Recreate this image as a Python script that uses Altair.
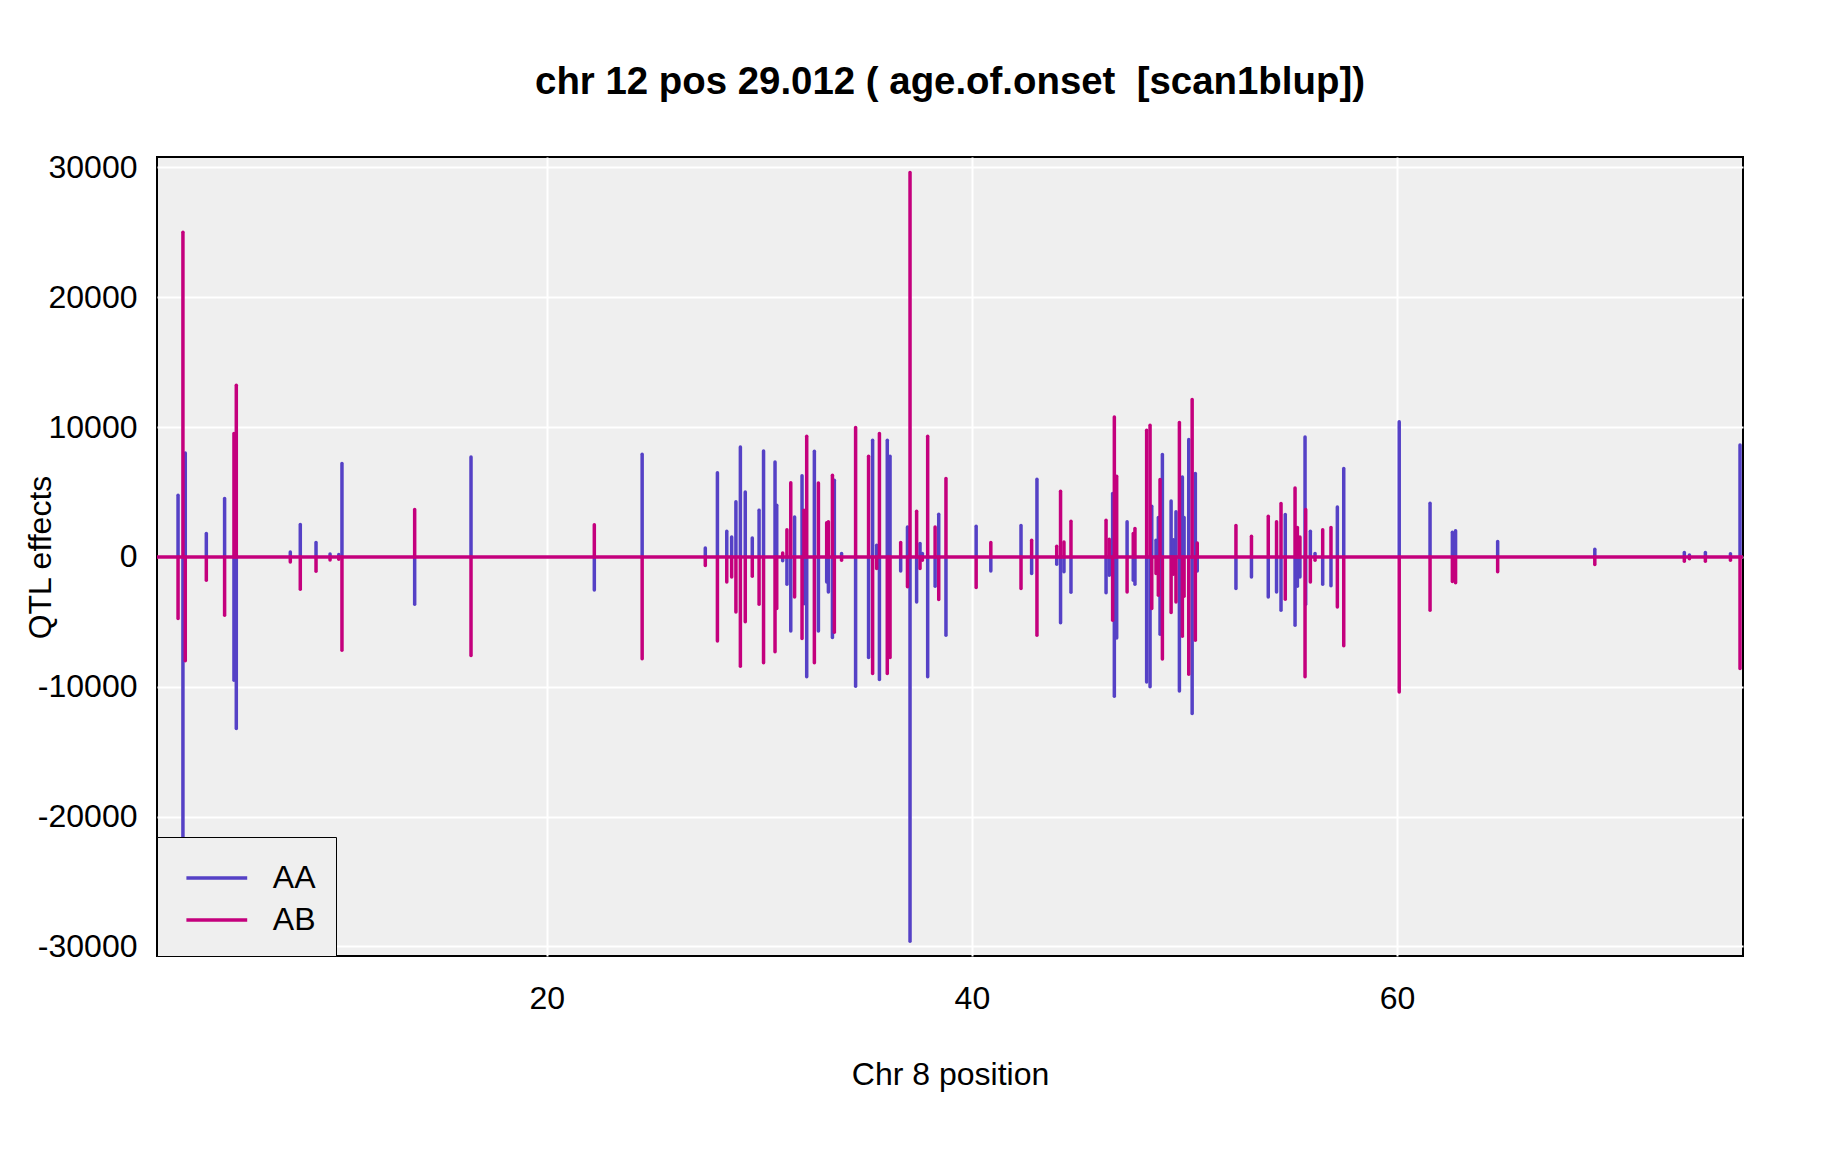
import altair as alt
import pandas as pd

# ---- data (marker position, AA effect, AB effect) ----
pos = [2.66, 2.89, 3.00, 3.99, 4.85, 5.29, 5.40, 7.94, 8.41, 9.15, 9.81, 10.22, 10.37,
       13.79, 16.44, 22.24, 24.49, 27.46, 28.03, 28.47, 28.70, 28.90, 29.11, 29.34,
       29.67, 29.99, 30.20, 30.74, 30.82, 31.10, 31.30, 31.48, 31.66, 32.01, 32.10,
       32.23, 32.59, 32.78, 33.17, 33.25, 33.44, 33.53, 33.87, 34.53, 35.14, 35.33,
       35.52, 35.65, 36.02, 36.15, 36.65, 36.97, 37.09, 37.40, 37.56, 37.67, 37.92,
       38.27, 38.44, 38.78, 40.20, 40.89, 42.31, 42.81, 43.06, 43.99, 44.17, 44.33,
       44.66, 46.31, 46.46, 46.62, 46.70, 46.81, 47.30, 47.59, 47.67, 48.22, 48.38,
       48.46, 48.66, 48.77, 48.85, 48.96, 49.37, 49.48, 49.60, 49.76, 49.90, 49.98,
       50.20, 50.36, 50.51, 50.60, 52.42, 53.15, 53.94, 54.33, 54.54, 54.74, 55.20,
       55.31, 55.43, 55.67, 55.70, 55.92, 56.14, 56.50, 56.89, 57.19, 57.49, 60.10,
       61.55, 62.60, 62.75, 64.73, 69.30, 73.51, 73.75, 74.50, 75.68, 76.13]

aa = [4750, -25000, 8000, 1800, 4490, -9500, -13220, 385, 2490, 1100, 230, 180, 7190,
      -3645, 7700, -2540, 7900, 690, 6490, 1980, 1540, 4240, 8470, 5000,
      1460, 3590, 8160, 7310, 3980, -300, -2100, -5700, 3080, 6260, -3600,
      -9240, 8140, -5700, -1930, -2700, -6210, 5900, 260, -9960, -7750, 8980,
      900, -9450, 8980, 7750, -1080, 2300, -29600, -3470, 1030, 260, -9240,
      -2260, 3290, -6030, 2360, -1080, 2410, -1280, 5980, -560, -5080, -1150,
      -2720, -2770, -1410, 4880, -10730, -6240, 2700, -1800, -2100, -9630, -10010,
      3900, 1280, 3030, -5960, 7880, 4310, 1330, 3470, -10320, 6160, 3030,
      9040, -12070, 6420, -1080, -2440, -1540, -3080, -2700, -4110, 3260, -5260,
      -2260, -1540, 9240, -3645, 1980, 260, -2100, -2230, 3850, 6800, 10400,
      4140, 1900, 2020, 1180, 590, 330, 150, 330, 250, 8610]

ab = [-4750, 25000, -8000, -1800, -4490, 9500, 13220, -385, -2490, -1100, -230, -180, -7190,
      3645, -7600, 2480, -7850, -660, -6470, -1930, -1540, -4240, -8420, -5000,
      -1490, -3645, -8160, -7310, -3980, 300, 2100, 5720, -3080, -6290, 3600,
      9290, -8160, 5700, 2640, 2700, 6290, -5800, -260, 9960, 7750, -8980,
      -900, 9500, -8980, -7750, 1100, -2300, 29600, 3520, -900, -260, 9290,
      2310, -3290, 6030, -2360, 1100, -2440, 1280, -6030, 820, 5060, 1150,
      2750, 2820, 1360, -4880, 10780, 6210, -2700, 1800, 2180, 9750, 10140,
      -3980, -1280, -2950, 5960, -7860, -4290, -1330, -3470, 10350, -6110, -3030,
      -9040, 12120, -6420, 1080, 2410, 1590, 3130, 2700, 4110, -3260, 5310,
      2260, 1540, -9240, 3645, -1930, -260, 2100, 2260, -3850, -6850, -10400,
      -4100, -1900, -2000, -1150, -590, -330, -150, -330, -250, -8590]

genotypes = ["AA", "AB"]
x_ticks = [20, 40, 60]
y_ticks = [-30000, -20000, -10000, 0, 10000, 20000, 30000]

BLUE = "#5541C6"
MAGENTA = "#C4007D"
FONT = "Liberation Sans"

rows = []
for g, vals in zip(genotypes, (aa, ab)):
    for p, v in zip(pos, vals):
        rows.append({"pos": p, "effect": v, "geno": g})
df = pd.DataFrame(rows)

x_scale = alt.Scale(domain=[1.67, 76.27], nice=False, zero=False)
y_scale = alt.Scale(domain=[-30739, 30801], nice=False, zero=False)

spikes = alt.Chart(df).mark_rule(strokeWidth=3.5, strokeCap="round").encode(
    x=alt.X("pos:Q", scale=x_scale,
            axis=alt.Axis(values=x_ticks, title="Chr 8 position", labelPadding=27,
                          titleX=793, titleY=128, titleBaseline="alphabetic",
                          titleAlign="center")),
    y=alt.Y("effect:Q", scale=y_scale,
            axis=alt.Axis(values=y_ticks, title="QTL effects", labelPadding=20,
                          labelExpr="'' + datum.value",
                          titleX=-107, titleY=400, titleAngle=270,
                          titleBaseline="alphabetic", titleAlign="center")),
    y2=alt.datum(0),
    color=alt.Color("geno:N",
                    scale=alt.Scale(domain=genotypes, range=[BLUE, MAGENTA]),
                    legend=alt.Legend(orient="bottom-left", offset=0, title=None,
                                      padding=20, symbolType="M-1.6,0L1.6,0",
                                      symbolSize=1444, symbolStrokeWidth=3.5,
                                      symbolOffset=18.8, labelOffset=35,
                                      labelFontSize=32, labelFont=FONT,
                                      labelColor="black", rowPadding=5,
                                      strokeColor="black", fillColor="#EFEFEF")),
)

zero_line = alt.Chart(pd.DataFrame({"z": [0]})).mark_rule(
    strokeWidth=3.5, color=MAGENTA
).encode(y=alt.datum(0))

chart = alt.layer(spikes, zero_line).properties(
    width=1586,
    height=799,
    title=alt.TitleParams("chr 12 pos 29.012 ( age.of.onset \u00a0[scan1blup])",
                          fontSize=38.4, font=FONT, fontWeight="bold",
                          color="black", anchor="middle", offset=49),
    autosize=alt.AutoSizeParams(type="none"),
    padding={"left": 149, "top": 149, "right": 60, "bottom": 180},
).configure_view(
    stroke="black", strokeWidth=2, fill="#EFEFEF"
).configure_axis(
    grid=True, gridColor="white", gridWidth=2, ticks=False, domain=False,
    labelFont=FONT, labelFontSize=32, labelColor="black",
    titleFont=FONT, titleFontSize=32, titleFontWeight="normal", titleColor="black"
)

chart.save("out.html", embed_options={"renderer": "svg", "actions": False})
